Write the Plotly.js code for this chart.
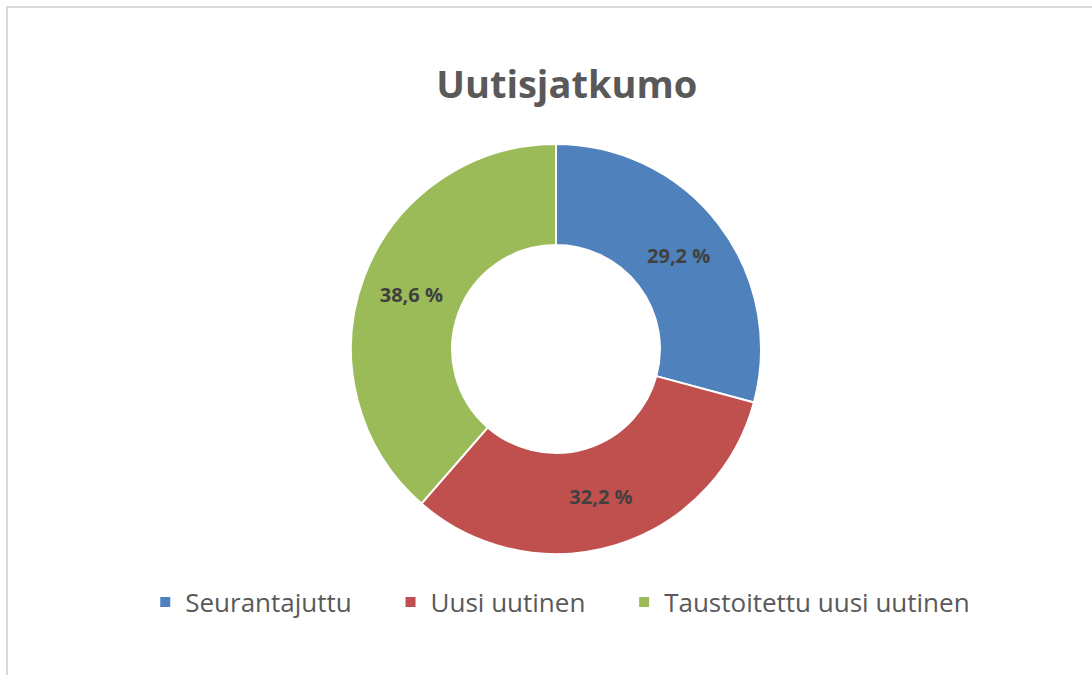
<!DOCTYPE html>
<html>
<head>
<meta charset="utf-8">
<script src="https://cdn.plot.ly/plotly-3.0.1.min.js"></script>
<style>
  html, body { margin: 0; padding: 0; background: #ffffff; overflow: hidden; }
  #frame { position: absolute; left: 6px; top: 6px; width: 1200px; height: 800px; border: 2px solid #d9d9d9; box-sizing: border-box; pointer-events: none; z-index: 5; }
  #chart { position: absolute; left: 0; top: 0; width: 1092px; height: 675px; }
</style>
</head>
<body>
<div id="chart"></div>
<div id="frame"></div>
<script>
const chartTitle = "Uutisjatkumo";
const categories = ["Seurantajuttu", "Uusi uutinen", "Taustoitettu uusi uutinen"];
const values = [29.2, 32.2, 38.6];
const valueLabels = ["29,2 %", "32,2 %", "38,6 %"];
const colors = ["#4F81BD", "#C0504D", "#9BBB59"];

// legend entries get a little trailing room, like the spacing in the original
const pad = "\u00a0\u00a0\u00a0\u00a0\u00a0";
const legendLabels = categories.map((c, i) => i < categories.length - 1 ? c + pad : c);

const trace = {
  type: "pie",
  labels: legendLabels,
  values: values,
  text: valueLabels,
  textinfo: "text",
  hoverinfo: "label+text",
  sort: false,
  direction: "clockwise",
  rotation: 0,
  hole: 0.507,
  marker: { colors: colors, line: { color: "#ffffff", width: 2 } },
  textposition: "inside",
  insidetextorientation: "horizontal",
  textfont: { family: "Open Sans, sans-serif", size: 20, color: "#404040", weight: "bold" },
  domain: { x: [(556 - 205) / 1092, (556 + 205) / 1092], y: [(675 - 554) / 675, (675 - 144) / 675] }
};

const layout = {
  width: 1092,
  height: 675,
  margin: { l: 0, r: 0, t: 0, b: 0 },
  paper_bgcolor: "#ffffff",
  title: {
    text: "<b>" + chartTitle + "</b>",
    font: { family: "Open Sans, sans-serif", size: 38, color: "#595959" },
    x: 0.519, xanchor: "center",
    y: 0.875, yanchor: "middle"
  },
  showlegend: true,
  legend: {
    orientation: "h",
    x: 0.133, xanchor: "left",
    y: 0.108, yanchor: "middle",
    font: { family: "Open Sans, sans-serif", size: 26, color: "#595959" },
    itemsizing: "constant",
    traceorder: "normal"
  }
};

Plotly.newPlot("chart", [trace], layout, { displayModeBar: false, staticPlot: true });
</script>
</body>
</html>
